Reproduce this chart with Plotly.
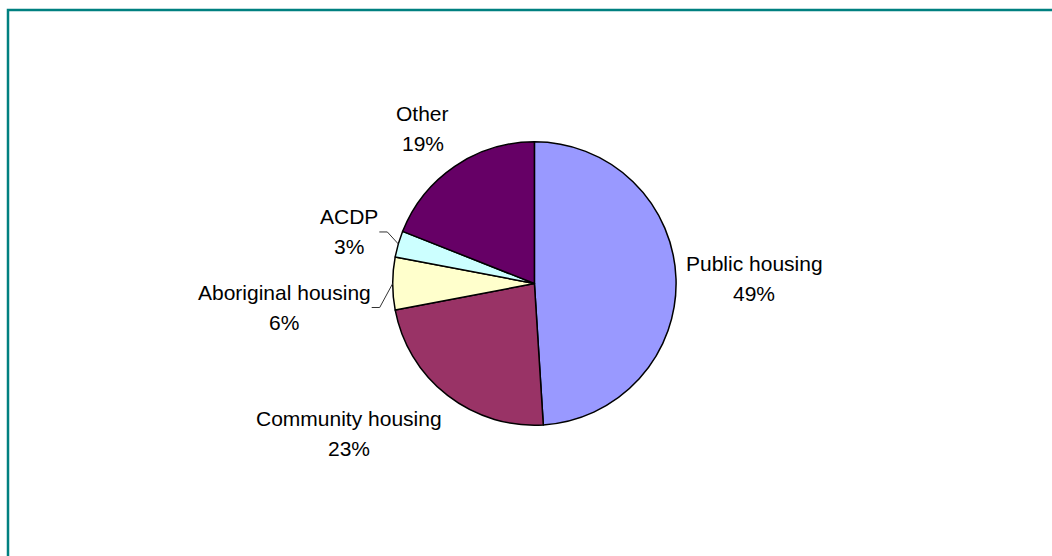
import math
import plotly.graph_objects as go

# Share of assistance by housing program (%)
categories = ["Public housing", "Community housing", "Aboriginal housing", "ACDP", "Other"]
shares = [49, 23, 6, 3, 19]
slice_colors = ["#9999FF", "#993366", "#FFFFCC", "#CCFFFF", "#660066"]

# Page geometry (pixels)
W, H = 1052, 556
CX, CY, R = 534.4, 283.5, 141.7
LABEL_GAP = 10
FONT_SIZE = 21
LINE_PITCH = 30
FONT = dict(family="Liberation Sans, Arial, sans-serif", size=FONT_SIZE, color="#000000")
FRAME_COLOR = "#008080"

# Small slices get their label pulled away and joined by a bent leader line:
# bend offset from the rim point (px), then a short horizontal tail.
leader_bends = {"ACDP": (-11, -12), "Aboriginal housing": (-13, 24)}
LEADER_TAIL = 8

# Advance widths (1/1000 em) of the Arial-metric glyphs used in the labels,
# so a two-line label block can be centred on its widest line.
GLYPH_W = {
    "A": 667, "C": 722, "D": 722, "O": 778, "P": 667,
    "a": 556, "b": 556, "c": 500, "e": 556, "g": 556, "h": 556, "i": 222,
    "l": 222, "m": 833, "n": 556, "o": 556, "r": 333, "s": 500, "t": 278,
    "u": 556, "y": 500, " ": 278, "%": 889,
}


def text_width(s):
    return sum(GLYPH_W.get(ch, 556) for ch in s) * FONT_SIZE / 1000.0


def px(x, y):
    """Pixel position -> paper coordinates."""
    return x / W, 1 - y / H


fig = go.Figure(
    go.Pie(
        labels=categories,
        values=shares,
        sort=False,
        direction="clockwise",
        rotation=0,
        marker=dict(colors=slice_colors, line=dict(color="#000000", width=1.5)),
        textinfo="none",
        hoverinfo="label+percent",
        showlegend=False,
        domain=dict(
            x=[(CX - R) / W, (CX + R) / W],
            y=[1 - (CY + R) / H, 1 - (CY - R) / H],
        ),
    )
)

annotations = []
shapes = []


def add_label(lines, x, y, xanchor, yanchor):
    """Place a centred block of text lines with its anchor corner at (x, y) px."""
    w = max(text_width(s) for s in lines)
    h = LINE_PITCH * len(lines)
    cx = {"left": x + w / 2, "right": x - w / 2, "center": x}[xanchor]
    top = {"top": y, "bottom": y - h, "middle": y - h / 2}[yanchor]
    for i, s in enumerate(lines):
        ax, ay = px(cx, top + LINE_PITCH * (i + 0.5))
        annotations.append(dict(
            x=ax, y=ay, xref="paper", yref="paper", text=s, showarrow=False,
            xanchor="center", yanchor="middle", font=FONT, borderpad=0,
        ))


total = sum(shares)
cum = 0
for cat, v in zip(categories, shares):
    mid = (cum + v / 2) / total * 2 * math.pi
    cum += v
    dx, dy = math.sin(mid), -math.cos(mid)
    pct = round(v / total * 100)
    lines = [cat, f"{pct}%"]

    if cat in leader_bends:
        rx, ry = CX + R * dx, CY + R * dy
        bx, by = rx + leader_bends[cat][0], ry + leader_bends[cat][1]
        side = -1 if dx < 0 else 1
        tx = bx + side * LEADER_TAIL
        p0, p1, p2 = px(rx, ry), px(bx, by), px(tx, by)
        shapes.append(dict(
            type="path", xref="paper", yref="paper",
            path=f"M {p0[0]} {p0[1]} L {p1[0]} {p1[1]} L {p2[0]} {p2[1]}",
            line=dict(color="#333333", width=1),
        ))
        add_label(lines, tx + side * 1, by, "right" if side < 0 else "left", "middle")
    else:
        lx, ly = CX + (R + LABEL_GAP) * dx, CY + (R + LABEL_GAP) * dy
        xanchor = "left" if dx > 0.3 else ("right" if dx < -0.3 else "center")
        yanchor = "bottom" if dy < -0.3 else ("top" if dy > 0.3 else "middle")
        add_label(lines, lx, ly, xanchor, yanchor)

# Chart frame (runs off the right and bottom of the page)
fx0, fy0 = px(8, 10)
fx1, fy1 = px(W + 20, H + 20)
shapes.append(dict(
    type="rect", xref="paper", yref="paper",
    x0=fx0, y0=fy1, x1=fx1, y1=fy0,
    line=dict(color=FRAME_COLOR, width=2.5), fillcolor="rgba(0,0,0,0)",
))

fig.update_layout(
    width=W, height=H,
    margin=dict(l=0, r=0, t=0, b=0),
    paper_bgcolor="#FFFFFF",
    plot_bgcolor="#FFFFFF",
    annotations=annotations,
    shapes=shapes,
)

fig.write_html("out.html")
